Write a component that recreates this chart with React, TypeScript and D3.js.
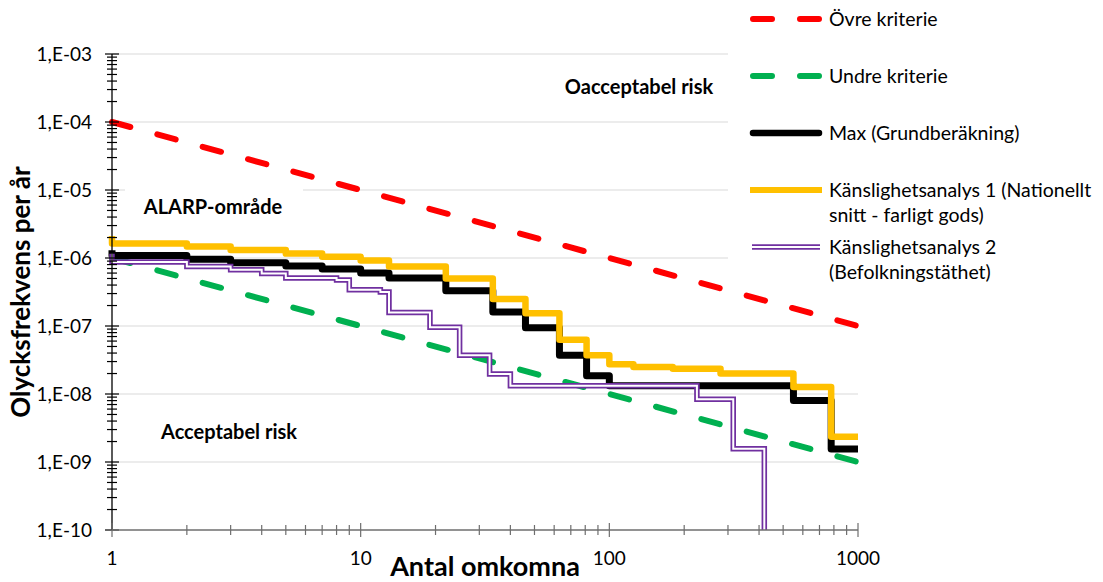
import React from "react";
import * as d3 from "d3";

// F/N-kurvor: antal omkomna (N) mot olycksfrekvens per år (F)
const critN = [1, 1000];
const upperF = [1e-4, 1e-7];
const lowerF = [1e-6, 1e-9];

const maxN = [1, 1, 2, 3, 5, 7, 10, 13, 22, 34, 46, 63, 81, 100, 550, 780, 1000];
const maxF = [1.3e-6, 1.09e-6, 9.6e-7, 8.5e-7, 7.6e-7, 6.9e-7, 6.0e-7, 5.1e-7, 3.3e-7, 1.6e-7, 9.4e-8, 3.7e-8, 1.85e-8, 1.32e-8, 8.0e-9, 1.55e-9, 1.55e-9];

const sens1N = [1, 1, 2, 3, 5, 7, 10, 13, 22, 34, 46, 63, 81, 100, 125, 180, 280, 550, 780, 1000];
const sens1F = [2.1e-6, 1.64e-6, 1.47e-6, 1.31e-6, 1.16e-6, 1.04e-6, 9.2e-7, 7.5e-7, 5.0e-7, 2.5e-7, 1.54e-7, 6.3e-8, 3.7e-8, 2.75e-8, 2.5e-8, 2.35e-8, 2.0e-8, 1.27e-8, 2.36e-9, 2.36e-9];

const sens2N = [1, 1, 2, 3, 4, 5, 8, 9, 12, 13, 19, 25, 33, 40, 225, 315, 420, 420];
const sens2F = [1.15e-6, 8.7e-7, 7.5e-7, 6.7e-7, 5.9e-7, 5.1e-7, 4.75e-7, 3.4e-7, 3.15e-7, 1.58e-7, 9.6e-8, 3.7e-8, 1.97e-8, 1.32e-8, 8.4e-9, 1.57e-9, 1e-12, 1e-12];

const yMajor = [1e-10, 1e-9, 1e-8, 1e-7, 1e-6, 1e-5, 1e-4, 1e-3];
const yTickLabels = ["1,E-10", "1,E-09", "1,E-08", "1,E-07", "1,E-06", "1,E-05", "1,E-04", "1,E-03"];
const xMajor = [1, 10, 100, 1000];
const xTickLabels = ["1", "10", "100", "1000"];

const legendLabels = [
  ["Övre kriterie"],
  ["Undre kriterie"],
  ["Max (Grundberäkning)"],
  ["Känslighetsanalys 1 (Nationellt", "snitt - farligt gods)"],
  ["Känslighetsanalys 2", "(Befolkningstäthet)"],
];

const FONT = "Lato, 'Open Sans', sans-serif";
const RED = "#FF0000";
const GREEN = "#00B050";
const YELLOW = "#FFC000";
const PURPLE = "#7030A0";

export default function App() {
  const left = 112, right = 858, top = 54, bottom = 530;
  const x = d3.scaleLog().domain([1, 1000]).range([left, right]);
  const y = d3.scaleLog().domain([1e-10, 1e-3]).range([bottom, top]);

  const step = d3
    .line<[number, number]>()
    .x((d) => x(d[0]))
    .y((d) => y(d[1]))
    .curve(d3.curveStepAfter);
  const straight = d3
    .line<[number, number]>()
    .x((d) => x(d[0]))
    .y((d) => y(d[1]));

  const zip = (a: number[], b: number[]) => a.map((v, i) => [v, b[i]] as [number, number]);

  const dash = "19,28";
  const legendY = [19, 76, 133, 190, 247];

  return (
    <svg width={1103} height={582} style={{ position: "absolute", left: 0, top: 0, background: "#fff" }} fontFamily={FONT}>
      <defs>
        <clipPath id="plot">
          <rect x={left - 10} y={top - 20} width={right - left + 20} height={bottom - top + 20} />
        </clipPath>
      </defs>

      {/* gridlines */}
      {yMajor.slice(1).map((v) => (
        <line key={v} x1={left} x2={right} y1={y(v)} y2={y(v)} stroke="#D9D9D9" strokeWidth={1.2} />
      ))}

      {/* white label box behind ALARP */}
      <rect x={125} y={180} width={178} height={52} fill="#fff" />

      {/* criteria and curves */}
      <g clipPath="url(#plot)">
        <path d={straight(zip(critN, upperF)) || ""} fill="none" stroke={RED} strokeWidth={6} strokeDasharray={dash} strokeLinecap="round" />
        <path d={straight(zip(critN, lowerF)) || ""} fill="none" stroke={GREEN} strokeWidth={6} strokeDasharray={dash} strokeLinecap="round" />
        <path d={step(zip(maxN, maxF)) || ""} fill="none" stroke="#000" strokeWidth={7} strokeLinejoin="round" />
        <path d={step(zip(sens1N, sens1F)) || ""} fill="none" stroke={YELLOW} strokeWidth={6.5} strokeLinejoin="round" />
        <path d={step(zip(sens2N, sens2F)) || ""} fill="none" stroke={PURPLE} strokeWidth={5.5} />
        <path d={step(zip(sens2N, sens2F)) || ""} fill="none" stroke="#fff" strokeWidth={2} />
      </g>

      {/* y axis */}
      <line x1={left} x2={left} y1={top} y2={bottom} stroke="#000" strokeWidth={1.3} />
      {y.ticks().map((v, i) => {
        const major = yMajor.some((m) => Math.abs(Math.log10(m) - Math.log10(v)) < 1e-6);
        const len = major ? 7 : 5;
        return <line key={i} x1={left - len} x2={left + len} y1={y(v)} y2={y(v)} stroke="#000" strokeWidth={1.2} />;
      })}
      {yMajor.map((v, i) => (
        <text key={v} x={92} y={y(v)} dy="0.35em" textAnchor="end" fontSize={19} fill="#000">
          {yTickLabels[i]}
        </text>
      ))}

      {/* x axis */}
      <line x1={left} x2={right} y1={bottom} y2={bottom} stroke="#6e6e6e" strokeWidth={1.3} />
      {x.ticks().map((v, i) => {
        const major = xMajor.includes(Math.round(v));
        const len = major ? 7 : 5;
        return <line key={i} x1={x(v)} x2={x(v)} y1={bottom - len} y2={bottom + len} stroke="#6e6e6e" strokeWidth={1.2} />;
      })}
      {xMajor.map((v, i) => (
        <text key={v} x={x(v)} y={565} textAnchor="middle" fontSize={19} fill="#000">
          {xTickLabels[i]}
        </text>
      ))}

      {/* axis titles */}
      <text x={(left + right) / 2} y={576} textAnchor="middle" fontSize={27} fontWeight="bold">
        Antal omkomna
      </text>
      <text transform={`translate(30,${(top + bottom) / 2}) rotate(-90)`} textAnchor="middle" fontSize={26} fontWeight="bold">
        Olycksfrekvens per år
      </text>

      {/* area annotations */}
      <text x={639} y={87} dy="0.35em" textAnchor="middle" fontSize={20} fontWeight="bold">Oacceptabel risk</text>
      <text x={213} y={207} dy="0.35em" textAnchor="middle" fontSize={20} fontWeight="bold">ALARP-område</text>
      <text x={229} y={432} dy="0.35em" textAnchor="middle" fontSize={20} fontWeight="bold">Acceptabel risk</text>

      {/* legend */}
      <rect x={728} y={0} width={375} height={287} fill="#fff" />
      <line x1={753} x2={822} y1={legendY[0]} y2={legendY[0]} stroke={RED} strokeWidth={6} strokeDasharray={dash} strokeLinecap="round" />
      <line x1={753} x2={822} y1={legendY[1]} y2={legendY[1]} stroke={GREEN} strokeWidth={6} strokeDasharray={dash} strokeLinecap="round" />
      <line x1={753} x2={819} y1={legendY[2]} y2={legendY[2]} stroke="#000" strokeWidth={6.5} strokeLinecap="round" />
      <line x1={750} x2={822} y1={legendY[3]} y2={legendY[3]} stroke={YELLOW} strokeWidth={6} />
      <line x1={752} x2={820} y1={legendY[4]} y2={legendY[4]} stroke={PURPLE} strokeWidth={5.5} />
      <line x1={752} x2={820} y1={legendY[4]} y2={legendY[4]} stroke="#fff" strokeWidth={2} />
      {legendLabels.map((lines, i) =>
        lines.map((t, j) => (
          <text key={`${i}-${j}`} x={829} y={legendY[i] + j * 25} dy="0.35em" fontSize={19.5} fill="#000">
            {t}
          </text>
        ))
      )}
    </svg>
  );
}
